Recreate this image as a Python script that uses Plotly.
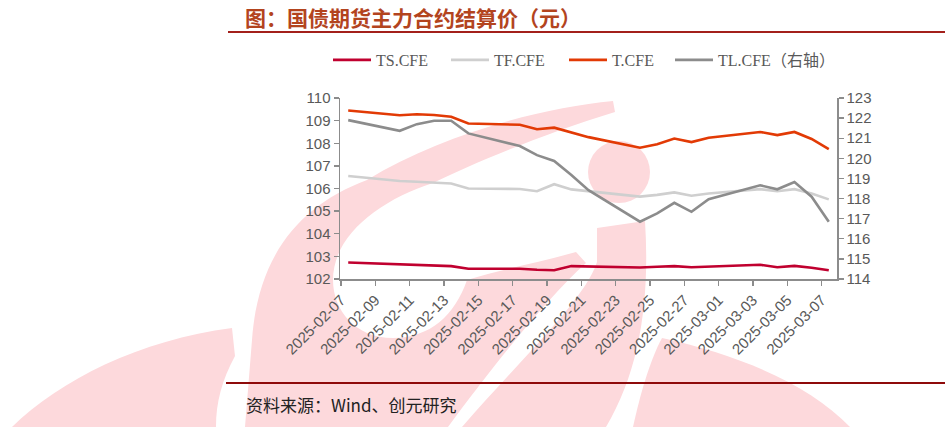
import plotly.graph_objects as go
import pandas as pd

# ---------------- data ----------------
dates = ["2025-02-07", "2025-02-10", "2025-02-11", "2025-02-12", "2025-02-13", "2025-02-14",
         "2025-02-17", "2025-02-18", "2025-02-19", "2025-02-20", "2025-02-21",
         "2025-02-24", "2025-02-25", "2025-02-26", "2025-02-27", "2025-02-28",
         "2025-03-03", "2025-03-04", "2025-03-05", "2025-03-06", "2025-03-07"]

ts_cfe = [102.73, 102.64, 102.61, 102.60, 102.57, 102.45, 102.45, 102.41, 102.39, 102.57, 102.56,
          102.51, 102.54, 102.57, 102.52, 102.55, 102.63, 102.52, 102.58, 102.50, 102.39]
tf_cfe = [106.55, 106.33, 106.30, 106.27, 106.22, 106.00, 105.98, 105.88, 106.19, 105.96, 105.88,
          105.64, 105.72, 105.83, 105.68, 105.78, 105.97, 105.88, 105.97, 105.78, 105.52]
t_cfe = [109.45, 109.24, 109.28, 109.25, 109.17, 108.87, 108.82, 108.62, 108.69, 108.48, 108.27,
         107.80, 107.96, 108.21, 108.05, 108.24, 108.50, 108.36, 108.50, 108.19, 107.74]
tl_cfe = [121.90, 121.37, 121.70, 121.87, 121.87, 121.24, 120.61, 120.16, 119.87, 119.17, 118.42,
          116.85, 117.26, 117.79, 117.34, 117.97, 118.66, 118.46, 118.82, 118.09, 116.85]

series_names = ["TS.CFE", "TF.CFE", "T.CFE", "TL.CFE（右轴）"]
series_colors = ["#C0002F", "#CFCFCF", "#E23A05", "#8C8C8C"]

tick_dates = pd.date_range("2025-02-07", "2025-03-07", freq="2D")
tick_labels = [d.strftime("%Y-%m-%d") for d in tick_dates]

title_text = "图：国债期货主力合约结算价（元）"
source_text = "资料来源：Wind、创元研究"

# ---------------- layout geometry ----------------
# page body margin is removed (post_script below), so figure pixels == window pixels
W, H = 945, 427
L, R, T, B = 340, 108, 98, 148
PW, PH = W - L - R, H - T - B


def px(sx):  # screen x -> paper
    return (sx - L) / PW


def py(sy):  # screen y -> paper
    return (H - B - sy) / PH


def path(cmds):
    out = []
    for c in cmds:
        if isinstance(c, str):
            out.append(c)
        else:
            out.append(f"{px(c[0]):.5f},{py(c[1]):.5f}")
    return " ".join(out)


fig = go.Figure()

xs = pd.to_datetime(dates)
fig.add_trace(go.Scatter(x=xs, y=ts_cfe, name=series_names[0], mode="lines",
                         line=dict(color=series_colors[0], width=2.6), legend="legend"))
fig.add_trace(go.Scatter(x=xs, y=tf_cfe, name=series_names[1], mode="lines",
                         line=dict(color=series_colors[1], width=2.6), legend="legend"))
fig.add_trace(go.Scatter(x=xs, y=t_cfe, name=series_names[2], mode="lines",
                         line=dict(color=series_colors[2], width=2.6), legend="legend"))
fig.add_trace(go.Scatter(x=xs, y=tl_cfe, name=series_names[3], mode="lines", yaxis="y2",
                         line=dict(color=series_colors[3], width=2.6), legend="legend2"))

# ---------------- watermark (decorative) ----------------
pink = "#FDD9DC"
shapes = []
wm_paths = [
    # bottom-left wedge
    ["M", (12, 427), "C", (60, 380), (140, 340), (232, 328), "L", (235, 356),
     "C", (222, 380), (216, 402), (216, 427), "Z"],
    # big swoosh ring
    ["M", (613, 101), "C", (540, 108), (440, 135), (367, 180),
     "C", (300, 205), (258, 255), (252, 340), "L", (245, 427), "L", (448, 427),
     "C", (490, 370), (545, 300), (586, 263), "L", (576, 252),
     "C", (540, 262), (500, 270), (467, 280),
     "C", (455, 315), (430, 338), (393, 338),
     "C", (355, 338), (333, 310), (333, 280),
     "C", (333, 235), (380, 200), (433, 183),
     "C", (470, 165), (540, 135), (615, 112), "Z"],
    # vertical stroke
    ["M", (597, 228), "L", (645, 221), "C", (650, 300), (640, 370), (606, 427),
     "L", (462, 427), "C", (520, 360), (585, 300), (597, 262), "Z"],
    # bottom-right wedge
    ["M", (662, 338), "C", (740, 355), (810, 385), (850, 427), "L", (633, 427),
     "C", (640, 395), (650, 360), (662, 338), "Z"],
]
for p in wm_paths:
    shapes.append(dict(type="path", xref="paper", yref="paper", path=path(p),
                       fillcolor=pink, line=dict(width=0), layer="below"))
shapes.append(dict(type="circle", xref="paper", yref="paper",
                   x0=px(588), x1=px(650), y0=py(203), y1=py(141),
                   fillcolor=pink, line=dict(width=0), layer="below"))

# header / footer rules
shapes.append(dict(type="line", xref="paper", yref="paper", x0=px(228), x1=px(945),
                   y0=py(32), y1=py(32), line=dict(color="#A3201B", width=2), layer="above"))
shapes.append(dict(type="line", xref="paper", yref="paper", x0=px(226), x1=px(945),
                   y0=py(383), y1=py(383), line=dict(color="#8E0A0A", width=2), layer="above"))

annotations = [
    dict(text=title_text, xref="paper", yref="paper", x=px(244), y=py(16.5),
         xanchor="left", yanchor="middle", showarrow=False, borderpad=0,
         font=dict(family="Noto Sans CJK SC", size=21, color="#B3441E", weight="bold")),
    dict(text=source_text, xref="paper", yref="paper", x=px(244), y=py(404),
         xanchor="left", yanchor="middle", showarrow=False,
         font=dict(family="Noto Sans CJK SC", size=17, color="#222222")),
]

axis_color = "#8C8C8C"
tick_font = dict(family="Liberation Sans, Arial, sans-serif", size=15, color="#595959")
legend_font = dict(family="Liberation Serif, Noto Sans CJK SC, serif", size=16, color="#595959")

fig.update_layout(
    width=W, height=H,
    margin=dict(l=L, r=R, t=T, b=B, pad=0),
    paper_bgcolor="white", plot_bgcolor="rgba(0,0,0,0)",
    shapes=shapes, annotations=annotations,
    showlegend=True, hovermode=False,
    legend=dict(orientation="h", x=px(328), y=py(60), xanchor="left", yanchor="middle",
                font=legend_font, entrywidth=65, entrywidthmode="pixels", itemwidth=38,
                bgcolor="rgba(0,0,0,0)", borderwidth=0),
    legend2=dict(orientation="h", x=px(670), y=py(60), xanchor="left", yanchor="middle",
                 font=legend_font, itemwidth=38,
                 bgcolor="rgba(0,0,0,0)", borderwidth=0),
    xaxis=dict(type="date",
               range=[pd.Timestamp("2025-02-07") - pd.Timedelta(hours=11.5),
                      pd.Timestamp("2025-03-07") + pd.Timedelta(hours=11.5)],
               tickvals=[d - pd.Timedelta(hours=10) for d in tick_dates], ticktext=tick_labels,
               tickangle=-45, showgrid=False, zeroline=False,
               showline=True, linecolor=axis_color, linewidth=1.5,
               ticks="outside", ticklen=5, tickcolor=axis_color, tickwidth=1.3,
               tickfont=tick_font),
    yaxis=dict(range=[102, 110], dtick=1, showgrid=False, zeroline=False,
               showline=True, linecolor=axis_color, linewidth=1.5,
               ticks="outside", ticklen=5, tickcolor=axis_color, tickwidth=1.3,
               tickfont=tick_font),
    yaxis2=dict(range=[114, 123], dtick=1, overlaying="y", side="right",
                showgrid=False, zeroline=False,
                showline=True, linecolor=axis_color, linewidth=1.5,
                ticks="outside", ticklen=5, tickcolor=axis_color, tickwidth=1.3,
                tickfont=tick_font),
)

fig.write_html("out.html", config={"displayModeBar": False, "staticPlot": True},
               post_script="document.body.style.margin='0px';document.body.style.overflow='hidden';")
